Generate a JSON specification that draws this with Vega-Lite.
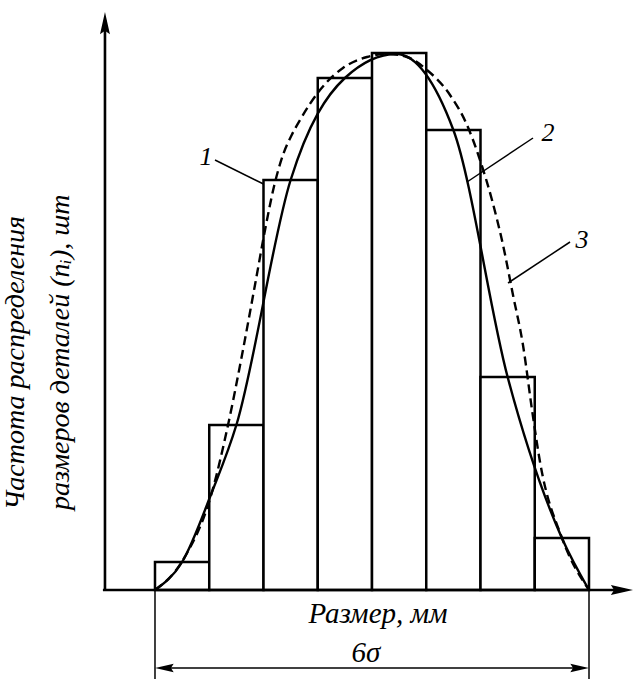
{
  "$schema": "https://vega.github.io/schema/vega-lite/v6.json",
  "width": 633,
  "height": 679,
  "autosize": "none",
  "padding": 0,
  "background": "white",
  "config": {"view": {"stroke": null}},
  "datasets": {
    "bars": [
      {"lo": 0, "hi": 1, "n": 2.8},
      {"lo": 1, "hi": 2, "n": 16.5},
      {"lo": 2, "hi": 3, "n": 41.0},
      {"lo": 3, "hi": 4, "n": 51.2},
      {"lo": 4, "hi": 5, "n": 53.7},
      {"lo": 5, "hi": 6, "n": 46.0},
      {"lo": 6, "hi": 7, "n": 21.3},
      {"lo": 7, "hi": 8, "n": 5.2}
    ],
    "solid": [
      {"x": 0, "y": 0},
      {"x": 0.5, "y": 2.8},
      {"x": 1.05, "y": 9.8},
      {"x": 1.5, "y": 16.5},
      {"x": 2.5, "y": 41.0},
      {"x": 3.5, "y": 51.2},
      {"x": 4.45, "y": 53.6},
      {"x": 5.5, "y": 46.0},
      {"x": 6.5, "y": 21.3},
      {"x": 7.5, "y": 5.2},
      {"x": 8.0, "y": 0}
    ],
    "dashed": [
      {"x": 0, "y": 0},
      {"x": 0.516, "y": 3.0},
      {"x": 1.051, "y": 9.8},
      {"x": 1.346, "y": 16.5},
      {"x": 1.604, "y": 23.5},
      {"x": 1.843, "y": 30.5},
      {"x": 2.046, "y": 36.5},
      {"x": 2.2, "y": 40.5},
      {"x": 2.359, "y": 43.5},
      {"x": 2.52, "y": 45.5},
      {"x": 2.673, "y": 47.0},
      {"x": 3.041, "y": 50.0},
      {"x": 3.465, "y": 52.2},
      {"x": 3.908, "y": 53.3},
      {"x": 4.295, "y": 53.6},
      {"x": 4.645, "y": 53.3},
      {"x": 5.014, "y": 52.0},
      {"x": 5.438, "y": 49.5},
      {"x": 5.751, "y": 46.5},
      {"x": 5.991, "y": 43.0},
      {"x": 6.212, "y": 39.0},
      {"x": 6.415, "y": 34.5},
      {"x": 6.599, "y": 29.5},
      {"x": 6.783, "y": 24.5},
      {"x": 6.950, "y": 18.0},
      {"x": 7.097, "y": 12.8},
      {"x": 7.502, "y": 5.2},
      {"x": 8.0, "y": 0}
    ],
    "thick": [
      {"x1": -0.922, "y1": 0, "x2": -0.922, "y2": 57.0},
      {"x1": -0.96, "y1": 0, "x2": 8.66, "y2": 0}
    ],
    "thin": [
      {"x1": 0, "y1": 0, "x2": 0, "y2": -8.9},
      {"x1": 8, "y1": 0, "x2": 8, "y2": -8.9},
      {"x1": 0.1, "y1": -7.8, "x2": 7.9, "y2": -7.8},
      {"x1": 1.106, "y1": 43.0, "x2": 2.0, "y2": 40.6},
      {"x1": 5.751, "y1": 40.8, "x2": 6.968, "y2": 45.2},
      {"x1": 6.507, "y1": 30.7, "x2": 7.650, "y2": 34.8}
    ],
    "arrows": [
      {"x": -0.922, "y": 56.5, "dir": "up", "s": 680},
      {"x": 8.571, "y": 0, "dir": "right", "s": 680},
      {"x": 0.203, "y": -7.8, "dir": "left", "s": 480},
      {"x": 7.797, "y": -7.8, "dir": "right", "s": 480}
    ],
    "labels": [
      {"x": 0.94, "y": 43.3, "t": "1"},
      {"x": 7.244, "y": 45.7, "t": "2"},
      {"x": 7.871, "y": 35.0, "t": "3"}
    ],
    "xtitle": [
      {"x": 4.11, "y": -3.3, "t": "Размер, мм"},
      {"x": 3.89, "y": -7.2, "t": "6σ"}
    ],
    "ytitle": [
      {"x": -2.415, "y": 8.0, "t": "Частота распределения"},
      {"x": -1.585, "y": 8.0, "t": "размеров деталей (nᵢ), шт"}
    ]
  },
  "layer": [
    {
      "data": {"name": "bars"},
      "mark": {"type": "rect", "fill": "white", "stroke": "black", "strokeWidth": 2.5},
      "encoding": {
        "x": {"field": "lo", "type": "quantitative", "scale": {"domain": [-2.857, 8.811], "nice": false, "zero": false}, "axis": null},
        "x2": {"field": "hi"},
        "y": {"field": "n", "type": "quantitative", "scale": {"domain": [-8.9, 59.0], "nice": false, "zero": false}, "axis": null},
        "y2": {"datum": 0}
      }
    },
    {
      "data": {"name": "solid"},
      "mark": {"type": "line", "interpolate": "monotone", "stroke": "black", "strokeWidth": 2.4},
      "encoding": {
        "x": {"field": "x", "type": "quantitative"},
        "y": {"field": "y", "type": "quantitative"}
      }
    },
    {
      "data": {"name": "dashed"},
      "mark": {"type": "line", "interpolate": "monotone", "stroke": "black", "strokeWidth": 2.4, "strokeDash": [9, 5]},
      "encoding": {
        "x": {"field": "x", "type": "quantitative"},
        "y": {"field": "y", "type": "quantitative"}
      }
    },
    {
      "data": {"name": "thick"},
      "mark": {"type": "rule", "stroke": "black", "strokeWidth": 2.6},
      "encoding": {
        "x": {"field": "x1", "type": "quantitative"},
        "y": {"field": "y1", "type": "quantitative"},
        "x2": {"field": "x2"},
        "y2": {"field": "y2"}
      }
    },
    {
      "data": {"name": "thin"},
      "mark": {"type": "rule", "stroke": "black", "strokeWidth": 1.5},
      "encoding": {
        "x": {"field": "x1", "type": "quantitative"},
        "y": {"field": "y1", "type": "quantitative"},
        "x2": {"field": "x2"},
        "y2": {"field": "y2"}
      }
    },
    {
      "data": {"name": "arrows"},
      "mark": {"type": "point", "filled": true, "fill": "black", "opacity": 1, "strokeWidth": 0},
      "encoding": {
        "x": {"field": "x", "type": "quantitative"},
        "y": {"field": "y", "type": "quantitative"},
        "shape": {"field": "dir", "type": "nominal", "legend": null,
          "scale": {"domain": ["up", "right", "left"],
            "range": ["M0,-1L0.38,0.7L0,0.45L-0.38,0.7Z", "M1,0L-0.7,0.38L-0.45,0L-0.7,-0.38Z", "M-1,0L0.7,-0.38L0.45,0L0.7,0.38Z"]}},
        "size": {"field": "s", "type": "quantitative", "scale": null}
      }
    },
    {
      "data": {"name": "labels"},
      "mark": {"type": "text", "font": "Liberation Serif", "fontStyle": "italic", "fontSize": 26, "align": "center", "baseline": "middle"},
      "encoding": {
        "x": {"field": "x", "type": "quantitative"},
        "y": {"field": "y", "type": "quantitative"},
        "text": {"field": "t"}
      }
    },
    {
      "data": {"name": "xtitle"},
      "mark": {"type": "text", "font": "Liberation Serif", "fontStyle": "italic", "fontSize": 29, "align": "center", "baseline": "alphabetic"},
      "encoding": {
        "x": {"field": "x", "type": "quantitative"},
        "y": {"field": "y", "type": "quantitative"},
        "text": {"field": "t"}
      }
    },
    {
      "data": {"name": "ytitle"},
      "mark": {"type": "text", "font": "Liberation Serif", "fontStyle": "italic", "fontSize": 28, "align": "left", "baseline": "alphabetic", "angle": 270},
      "encoding": {
        "x": {"field": "x", "type": "quantitative"},
        "y": {"field": "y", "type": "quantitative"},
        "text": {"field": "t"}
      }
    }
  ]
}
